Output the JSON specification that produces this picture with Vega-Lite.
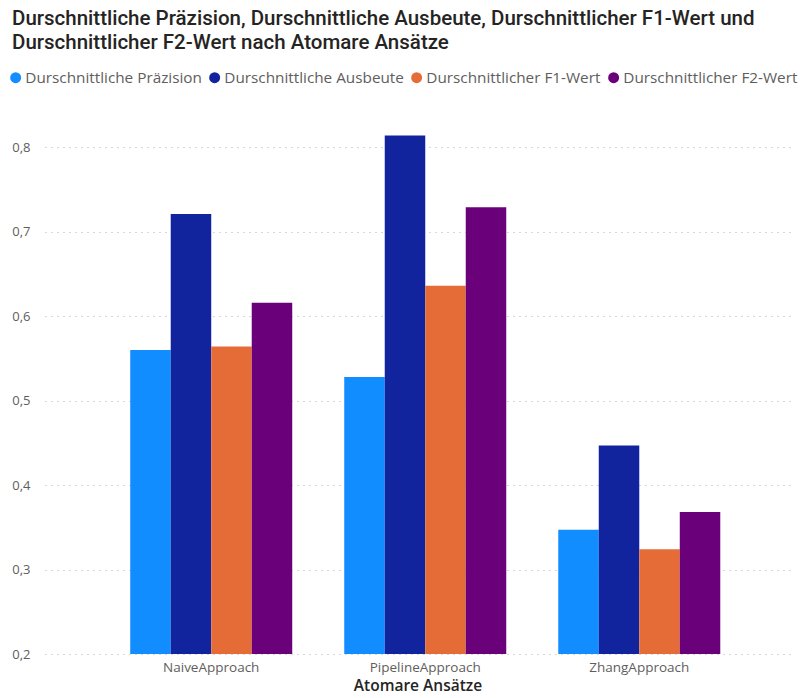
{
  "$schema": "https://vega.github.io/schema/vega-lite/v6.json",
  "autosize": {"type": "none"},
  "width": 745,
  "height": 549,
  "padding": {"left": 45, "top": 105, "right": 10, "bottom": 44},
  "background": "#ffffff",
  "title": {
    "text": ["Durschnittliche Präzision, Durschnittliche Ausbeute, Durschnittlicher F1-Wert und", "Durschnittlicher F2-Wert nach Atomare Ansätze"],
    "anchor": "start",
    "frame": "group",
    "dx": -33,
    "offset": 17,
    "font": "Roboto",
    "fontSize": 20.5,
    "fontWeight": 500,
    "color": "#252423",
    "lineHeight": 24
  },
  "data": {
    "values": [
      {"Ansatz": "NaiveApproach", "Kennzahl": "Durschnittliche Präzision", "Wert": 0.560},
      {"Ansatz": "NaiveApproach", "Kennzahl": "Durschnittliche Ausbeute", "Wert": 0.721},
      {"Ansatz": "NaiveApproach", "Kennzahl": "Durschnittlicher F1-Wert", "Wert": 0.564},
      {"Ansatz": "NaiveApproach", "Kennzahl": "Durschnittlicher F2-Wert", "Wert": 0.616},
      {"Ansatz": "PipelineApproach", "Kennzahl": "Durschnittliche Präzision", "Wert": 0.528},
      {"Ansatz": "PipelineApproach", "Kennzahl": "Durschnittliche Ausbeute", "Wert": 0.814},
      {"Ansatz": "PipelineApproach", "Kennzahl": "Durschnittlicher F1-Wert", "Wert": 0.636},
      {"Ansatz": "PipelineApproach", "Kennzahl": "Durschnittlicher F2-Wert", "Wert": 0.729},
      {"Ansatz": "ZhangApproach", "Kennzahl": "Durschnittliche Präzision", "Wert": 0.347},
      {"Ansatz": "ZhangApproach", "Kennzahl": "Durschnittliche Ausbeute", "Wert": 0.447},
      {"Ansatz": "ZhangApproach", "Kennzahl": "Durschnittlicher F1-Wert", "Wert": 0.324},
      {"Ansatz": "ZhangApproach", "Kennzahl": "Durschnittlicher F2-Wert", "Wert": 0.368}
    ]
  },
  "mark": {"type": "bar", "clip": true},
  "encoding": {
    "x": {
      "field": "Ansatz",
      "type": "nominal",
      "sort": ["NaiveApproach", "PipelineApproach", "ZhangApproach"],
      "scale": {"paddingInner": 0.243, "paddingOuter": 0.362, "align": 0.55},
      "axis": {
        "title": "Atomare Ansätze",
        "labelAngle": 0,
        "ticks": false,
        "domain": false,
        "labelPadding": 6,
        "labelFont": "Open Sans",
        "labelFontSize": 13.5,
        "labelColor": "#605e5c",
        "titleFont": "Open Sans",
        "titleFontSize": 15.5,
        "titleFontWeight": 600,
        "titleColor": "#252423",
        "titlePadding": 5
      }
    },
    "xOffset": {
      "field": "Kennzahl",
      "type": "nominal",
      "sort": ["Durschnittliche Präzision", "Durschnittliche Ausbeute", "Durschnittlicher F1-Wert", "Durschnittlicher F2-Wert"],
      "scale": {"paddingInner": 0, "paddingOuter": 0}
    },
    "y": {
      "field": "Wert",
      "type": "quantitative",
      "scale": {"domain": [0.2, 0.85], "nice": false, "zero": false},
      "axis": {
        "title": null,
        "values": [0.2, 0.3, 0.4, 0.5, 0.6, 0.7, 0.8],
        "format": ".1f",
        "ticks": false,
        "domain": false,
        "labelPadding": 15,
        "labelFont": "Open Sans",
        "labelFontSize": 13,
        "labelColor": "#605e5c",
        "grid": true,
        "gridColor": "#b3b0ad",
        "gridDash": [1, 5],
        "gridWidth": 1
      }
    },
    "color": {
      "field": "Kennzahl",
      "type": "nominal",
      "sort": ["Durschnittliche Präzision", "Durschnittliche Ausbeute", "Durschnittlicher F1-Wert", "Durschnittlicher F2-Wert"],
      "scale": {
        "domain": ["Durschnittliche Präzision", "Durschnittliche Ausbeute", "Durschnittlicher F1-Wert", "Durschnittlicher F2-Wert"],
        "range": ["#118DFF", "#12239E", "#E66C37", "#6B007B"]
      },
      "legend": {
        "title": null,
        "orient": "none",
        "direction": "horizontal",
        "legendX": -37,
        "legendY": -35,
        "symbolType": "circle",
        "symbolSize": 120,
        "symbolStrokeWidth": 0,
        "symbolOpacity": 1,
        "labelFont": "Open Sans",
        "labelFontSize": 15.3,
        "labelLimit": 300,
        "labelColor": "#605e5c",
        "labelOffset": 2,
        "columnPadding": 5,
        "symbolOffset": 0
      }
    }
  },
  "config": {
    "locale": {
      "number": {"decimal": ",", "thousands": ".", "grouping": [3], "currency": ["", " €"]}
    },
    "view": {"stroke": null}
  }
}
